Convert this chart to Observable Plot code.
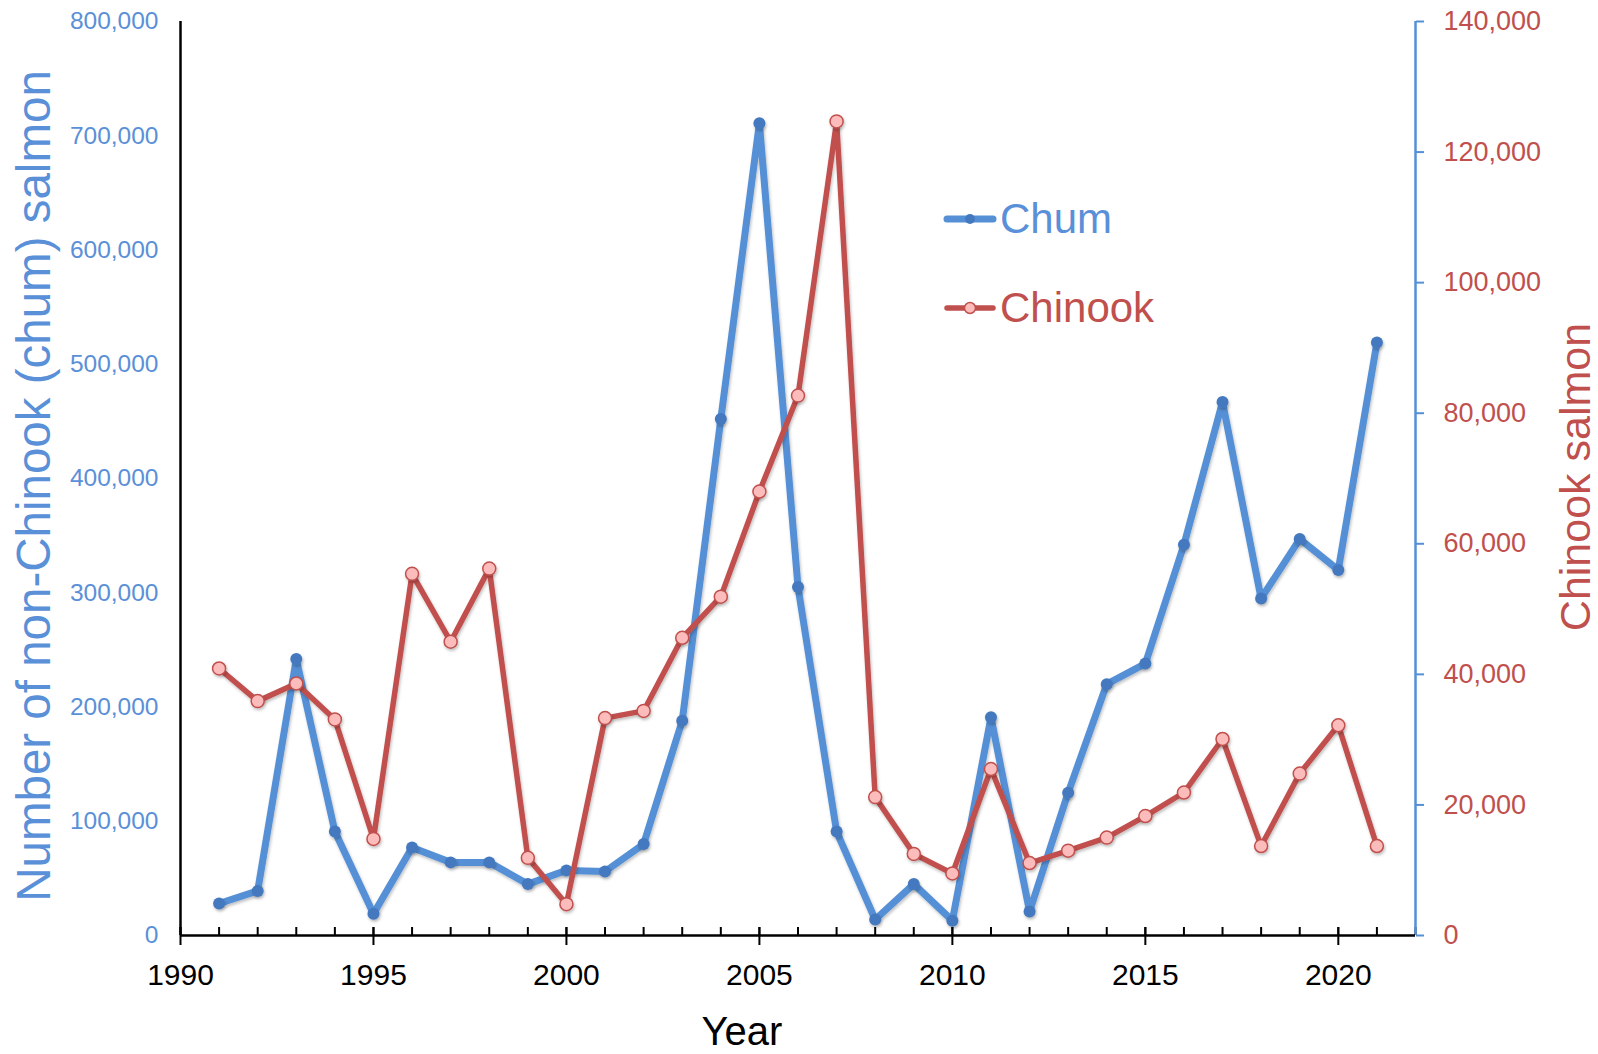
<!DOCTYPE html>
<html>
<head>
<meta charset="utf-8">
<script src="https://cdn.jsdelivr.net/npm/d3@7"></script>
<script src="https://cdn.jsdelivr.net/npm/@observablehq/plot@0.6"></script>
<style>
  body { margin: 0; background: #fff; font-family: "Liberation Sans", Arial, Helvetica, sans-serif; }
  #wrap { position: relative; width: 1598px; height: 1054px; }
  .ttl { position: absolute; white-space: nowrap; line-height: 1; }
  .leg { position: absolute; display: flex; align-items: center; white-space: nowrap; }
</style>
</head>
<body>
<div id="wrap"></div>
<script>
const years = [1991,1992,1993,1994,1995,1996,1997,1998,1999,2000,2001,2002,2003,2004,2005,2006,2007,2008,2009,2010,2011,2012,2013,2014,2015,2016,2017,2018,2019,2020,2021];
const chum = [28000,39000,242000,91000,19000,77000,64000,64000,45000,57000,56000,80000,188000,452000,711000,305000,91000,14000,45000,13000,191000,21000,125000,220000,238000,342000,467000,295000,347000,320000,519000];
const chinook = [40900,35900,38600,33100,14800,55400,45000,56200,11900,4800,33300,34400,45600,51900,68000,82700,124700,21200,12500,9500,25500,11100,13000,15000,18300,21900,30100,13700,24800,32200,13700];
const leftTicks = [0,100000,200000,300000,400000,500000,600000,700000,800000];
const rightTicks = [0,20000,40000,60000,80000,100000,120000,140000];
const xTicksMajor = [1990,1995,2000,2005,2010,2015,2020];
const xTicksMinor = d3.range(1990, 2023);
const seriesNames = ["Chum", "Chinook"];
const xTitle = "Year";
const leftTitle = "Number of non-Chinook (chum) salmon";
const rightTitle = "Chinook salmon";

const BLUE = "#5590d6";
const BLUE_DOT = "#4479bf";
const BLUE_TXT = "#5a90d8";
const RED = "#c0504d";
const PINK = "#fcbcbc";

const leftMax = 800000, rightMax = 140000;
const k = leftMax / rightMax;
const fmt = d3.format(",");

const chumData = years.map((y, i) => ({year: y, value: chum[i]}));
const chinookData = years.map((y, i) => ({year: y, value: chinook[i] * k}));

const chart = Plot.plot({
  width: 1598,
  height: 1054,
  marginLeft: 180,
  marginRight: 183,
  marginTop: 21,
  marginBottom: 119,
  style: {fontFamily: '"Liberation Sans", Arial, Helvetica, sans-serif', background: "#fff"},
  x: {domain: [1990, 2022]},
  y: {domain: [0, leftMax]},
  marks: [
    Plot.axisY({ticks: leftTicks, tickSize: 0, tickPadding: 22, tickFormat: d => fmt(d), fill: BLUE_TXT, fontSize: 24.5, label: null}),
    Plot.axisY({anchor: "right", ticks: rightTicks.map(v => v * k), tickSize: 8, tickPadding: 20, stroke: BLUE, strokeWidth: 2,
      tickFormat: d => fmt(Math.round(d / k)), fill: RED, fontSize: 27, label: null}),
    Plot.axisX({ticks: xTicksMinor, tickSize: 8, dy: -8, tickFormat: () => "", stroke: "#000", strokeWidth: 2, label: null}),
    Plot.axisX({ticks: xTicksMajor, tickSize: 18, dy: -8, tickFormat: () => "", stroke: "#000", strokeWidth: 2, label: null}),
    Plot.axisX({ticks: xTicksMajor, tickSize: 0, tickPadding: 28, tickFormat: d => String(d), fill: "#000", fontSize: 30, label: null}),
    Plot.ruleX([2022], {stroke: BLUE, strokeWidth: 2.5}),
    Plot.ruleX([1990], {stroke: "#000", strokeWidth: 2.5}),
    Plot.ruleY([0], {stroke: "#000", strokeWidth: 2.5}),
    Plot.line(chumData, {x: "year", y: "value", stroke: BLUE, strokeWidth: 7, strokeLinejoin: "round", strokeLinecap: "round"}),
    Plot.dot(chumData, {x: "year", y: "value", r: 6, fill: BLUE_DOT, stroke: "none"}),
    Plot.line(chinookData, {x: "year", y: "value", stroke: RED, strokeWidth: 5.5, strokeLinejoin: "round", strokeLinecap: "round"}),
    Plot.dot(chinookData, {x: "year", y: "value", r: 6.5, fill: PINK, stroke: RED, strokeWidth: 1.5})
  ]
});

const svg = d3.select(chart);
const defs = svg.insert("defs", ":first-child");
const f = defs.append("filter").attr("id", "sh").attr("x", "-5%").attr("y", "-5%").attr("width", "110%").attr("height", "110%");
f.append("feDropShadow").attr("dx", 1).attr("dy", 2).attr("stdDeviation", 1.5).attr("flood-color", "#000").attr("flood-opacity", 0.25);
svg.selectAll('g[aria-label="line"], g[aria-label="dot"]').attr("filter", "url(#sh)");

const wrap = document.getElementById("wrap");
wrap.appendChild(chart);

function addDiv(cls, html, css) {
  const d = document.createElement("div");
  d.className = cls;
  d.innerHTML = html;
  Object.assign(d.style, css);
  wrap.appendChild(d);
  return d;
}

addDiv("ttl", xTitle, {left: "742px", top: "1031px", transform: "translate(-50%,-50%)", fontSize: "40px", color: "#000"});
addDiv("ttl", leftTitle, {left: "34px", top: "486px", transform: "translate(-50%,-50%) rotate(-90deg)", fontSize: "47.5px", color: BLUE_TXT});
addDiv("ttl", rightTitle, {left: "1575px", top: "477px", transform: "translate(-50%,-50%) rotate(-90deg)", fontSize: "43px", color: RED});

function swatch(color, w, fill, stroke, r, sw) {
  return `<svg width="52" height="20" style="margin-right:4px;overflow:visible">
    <line x1="3" y1="10" x2="49" y2="10" stroke="${color}" stroke-width="${w}" stroke-linecap="round"/>
    <circle cx="26" cy="10" r="${r}" fill="${fill}" stroke="${stroke}" stroke-width="${sw}"/></svg>`;
}
addDiv("leg", swatch(BLUE, 7, BLUE_DOT, "none", 5, 0) + `<span>${seriesNames[0]}</span>`,
  {left: "944px", top: "219px", transform: "translateY(-50%)", fontSize: "42px", color: BLUE_TXT});
addDiv("leg", swatch(RED, 5.5, PINK, RED, 5.5, 1.5) + `<span>${seriesNames[1]}</span>`,
  {left: "944px", top: "308px", transform: "translateY(-50%)", fontSize: "42px", color: RED});
</script>
</body>
</html>
